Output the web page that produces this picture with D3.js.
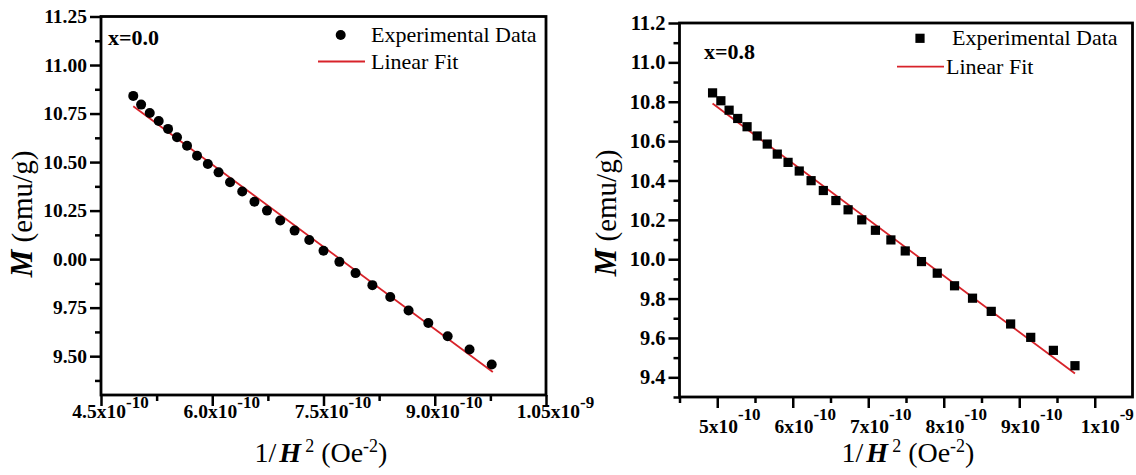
<!DOCTYPE html>
<html><head><meta charset="utf-8">
<script src="https://cdn.jsdelivr.net/npm/d3@7"></script>
<style>body{margin:0;background:#fff}svg{display:block}svg text{font-family:"Liberation Serif","DejaVu Serif",serif}</style>
</head><body>
<svg id="chart" width="1136" height="475"></svg>
<script>
// ---------- data ----------
const leftX = [4.935e-10,5.041e-10,5.157e-10,5.278e-10,5.404e-10,5.525e-10,5.660e-10,5.795e-10,5.940e-10,6.085e-10,6.240e-10,6.404e-10,6.569e-10,6.738e-10,6.917e-10,7.110e-10,7.308e-10,7.500e-10,7.714e-10,7.932e-10,8.159e-10,8.400e-10,8.647e-10,8.913e-10,9.174e-10,9.469e-10,9.768e-10];
const leftM = [10.841,10.796,10.753,10.712,10.671,10.628,10.584,10.533,10.490,10.447,10.396,10.348,10.296,10.250,10.199,10.147,10.099,10.043,9.986,9.928,9.866,9.805,9.735,9.671,9.603,9.534,9.457];
const leftFitX = [4.935e-10, 9.783e-10];
const leftFitM = [10.788, 9.418];

const rightX = [4.938e-10,5.048e-10,5.157e-10,5.271e-10,5.395e-10,5.529e-10,5.662e-10,5.795e-10,5.938e-10,6.086e-10,6.243e-10,6.405e-10,6.571e-10,6.733e-10,6.914e-10,7.095e-10,7.300e-10,7.490e-10,7.705e-10,7.914e-10,8.143e-10,8.381e-10,8.629e-10,8.886e-10,9.152e-10,9.452e-10,9.738e-10];
const rightM = [10.845,10.805,10.757,10.715,10.673,10.626,10.585,10.534,10.492,10.448,10.399,10.349,10.298,10.251,10.200,10.147,10.098,10.042,9.988,9.929,9.865,9.802,9.735,9.671,9.603,9.537,9.459];
const rightFitX = [4.938e-10, 9.738e-10];
const rightFitM = [10.791, 9.419];

// ---------- axes / ticks ----------
const leftXDomain = [4.5e-10, 1.05e-9];
const leftYDomain = [9.30, 11.25];
const leftXTicks = [4.5e-10, 6.0e-10, 7.5e-10, 9.0e-10, 1.05e-9];
const leftXTickBase = ["4.5x10","6.0x10","7.5x10","9.0x10","1.05x10"];
const leftXTickExp = ["-10","-10","-10","-10","-9"];
const leftXMinor = [5.25e-10, 6.75e-10, 8.25e-10, 9.75e-10];
const leftYTicks = [9.50, 9.75, 10.00, 10.25, 10.50, 10.75, 11.00, 11.25];
const leftYTickLabels = ["9.50","9.75","0.00","10.25","10.50","10.75","11.00","11.25"];
const leftYMinor = [9.375, 9.625, 9.875, 10.125, 10.375, 10.625, 10.875, 11.125];

const rightXDomain = [4.5e-10, 1.05e-9];
const rightYDomain = [9.30, 11.20];
const rightXTicks = [5e-10, 6e-10, 7e-10, 8e-10, 9e-10, 1e-9];
const rightXTickBase = ["5x10","6x10","7x10","8x10","9x10","1x10"];
const rightXTickExp = ["-10","-10","-10","-10","-10","-9"];
const rightXMinor = [4.5e-10, 5.5e-10, 6.5e-10, 7.5e-10, 8.5e-10, 9.5e-10];
const rightYTicks = [9.4, 9.6, 9.8, 10.0, 10.2, 10.4, 10.6, 10.8, 11.0, 11.2];
const rightYTickLabels = ["9.4","9.6","9.8","10.0","10.2","10.4","10.6","10.8","11.0","11.2"];
const rightYMinor = [9.3, 9.5, 9.7, 9.9, 10.1, 10.3, 10.5, 10.7, 10.9, 11.1];

const legendLabels = ["Experimental Data", "Linear Fit"];
const panelLabels = ["x=0.0", "x=0.8"];

const FONT = '"Liberation Serif", "DejaVu Serif", serif';
const RED = "#d8232a";
const svg = d3.select("#chart");

const panels = [
  { X: leftX, M: leftM, fitX: leftFitX, fitM: leftFitM, xDom: leftXDomain, yDom: leftYDomain,
    xTicks: leftXTicks, xBase: leftXTickBase, xExp: leftXTickExp, xMinor: leftXMinor,
    yTicks: leftYTicks, yLabels: leftYTickLabels, yMinor: leftYMinor,
    box: {x0: 101, x1: 546, y0: 16.5, y1: 395}, marker: "circle", label: panelLabels[0],
    labelPos: [108, 45], xLabShift: 9, xLabY: 23, supDy: -10, yFont: 19.5,
    leg: {mx: 340.7, my: 35, tx: 371, ty1: 42, lx0: 318, lx1: 365, ly: 61.5, ty2: 68.5},
    yTitle: [32, 214], xTitle: [321, 462] },
  { X: rightX, M: rightM, fitX: rightFitX, fitM: rightFitM, xDom: rightXDomain, yDom: rightYDomain,
    xTicks: rightXTicks, xBase: rightXTickBase, xExp: rightXTickExp, xMinor: rightXMinor,
    yTicks: rightYTicks, yLabels: rightYTickLabels, yMinor: rightYMinor,
    box: {x0: 679.5, x1: 1132.5, y0: 23, y1: 397}, marker: "square", label: panelLabels[1],
    labelPos: [704, 59], xLabShift: 12, xLabY: 36, supDy: -13, yFont: 20.5,
    leg: {mx: 920, my: 38.3, tx: 952, ty1: 45, lx0: 897, lx1: 944, ly: 66.7, ty2: 74},
    yTitle: [616, 213], xTitle: [908, 462] }
];

panels.forEach(p => {
  const b = p.box;
  const x = d3.scaleLinear().domain(p.xDom).range([b.x0, b.x1]);
  const y = d3.scaleLinear().domain(p.yDom).range([b.y1, b.y0]);
  const g = svg.append("g");

  // minor ticks
  g.append("g").attr("transform", `translate(0,${b.y1})`)
    .call(d3.axisBottom(x).tickValues(p.xMinor).tickSize(6).tickFormat(""))
    .call(s => s.select(".domain").remove())
    .selectAll("line").attr("stroke", "#000").attr("stroke-width", 2.5);
  g.append("g").attr("transform", `translate(${b.x0},0)`)
    .call(d3.axisLeft(y).tickValues(p.yMinor).tickSize(6).tickFormat(""))
    .call(s => s.select(".domain").remove())
    .selectAll("line").attr("stroke", "#000").attr("stroke-width", 2.5);

  // major x ticks
  const xa = g.append("g").attr("transform", `translate(0,${b.y1})`)
    .call(d3.axisBottom(x).tickValues(p.xTicks).tickSize(11).tickFormat(""));
  xa.attr("font-family", null);
  xa.select(".domain").remove();
  xa.selectAll("line").attr("stroke", "#000").attr("stroke-width", 2.5);
  xa.selectAll(".tick").each(function(d, i) {
    const t = d3.select(this).append("text")
      .attr("x", p.xLabShift).attr("y", p.xLabY)
      .attr("text-anchor", "middle").attr("fill", "#000")
      .style("font-family", FONT).style("font-size", "19.5px").style("font-weight", "bold");
    t.append("tspan").text(p.xBase[i]);
    t.append("tspan").attr("dy", p.supDy).style("font-size", "17px").text(p.xExp[i]);
  });

  // major y ticks
  const ya = g.append("g").attr("transform", `translate(${b.x0},0)`)
    .call(d3.axisLeft(y).tickValues(p.yTicks).tickSize(11).tickPadding(3)
      .tickFormat((d, i) => p.yLabels[i]));
  ya.attr("font-family", null);
  ya.select(".domain").remove();
  ya.selectAll("line").attr("stroke", "#000").attr("stroke-width", 2.5);
  ya.selectAll("text").attr("fill", "#000")
    .style("font-family", FONT).style("font-size", p.yFont + "px").style("font-weight", "bold");

  // frame
  g.append("rect").attr("x", b.x0).attr("y", b.y0)
    .attr("width", b.x1 - b.x0).attr("height", b.y1 - b.y0)
    .attr("fill", "none").attr("stroke", "#000").attr("stroke-width", 2.8);

  // fit line
  g.append("path")
    .datum(p.fitX.map((v, i) => [v, p.fitM[i]]))
    .attr("d", d3.line().x(d => x(d[0])).y(d => y(d[1])))
    .attr("stroke", RED).attr("stroke-width", 1.8).attr("fill", "none");

  // markers
  const pts = p.X.map((v, i) => [v, p.M[i]]);
  if (p.marker === "circle") {
    g.selectAll("circle.pt").data(pts).join("circle").attr("class", "pt")
      .attr("cx", d => x(d[0])).attr("cy", d => y(d[1])).attr("r", 5).attr("fill", "#000");
  } else {
    g.selectAll("rect.pt").data(pts).join("rect").attr("class", "pt")
      .attr("x", d => x(d[0]) - 4.6).attr("y", d => y(d[1]) - 4.6)
      .attr("width", 9.2).attr("height", 9.2).attr("fill", "#000");
  }

  // legend
  const L = p.leg;
  if (p.marker === "circle") {
    g.append("circle").attr("cx", L.mx).attr("cy", L.my).attr("r", 5).attr("fill", "#000");
  } else {
    g.append("rect").attr("x", L.mx - 4.6).attr("y", L.my - 4.6).attr("width", 9.2).attr("height", 9.2).attr("fill", "#000");
  }
  g.append("text").attr("x", L.tx).attr("y", L.ty1).style("font-family", FONT).style("font-size", "22px").text(legendLabels[0]);
  g.append("line").attr("x1", L.lx0).attr("x2", L.lx1).attr("y1", L.ly).attr("y2", L.ly)
    .attr("stroke", RED).attr("stroke-width", 1.8);
  g.append("text").attr("x", p.marker === "circle" ? L.tx : L.lx1 + 2).attr("y", L.ty2)
    .style("font-family", FONT).style("font-size", "22px").text(legendLabels[1]);

  // panel label
  g.append("text").attr("x", p.labelPos[0]).attr("y", p.labelPos[1])
    .style("font-family", FONT).style("font-size", "22px").style("font-weight", "bold").text(p.label);

  // y title
  const yt = g.append("text").attr("transform", `translate(${p.yTitle[0]},${p.yTitle[1]}) rotate(-90)`)
    .attr("text-anchor", "middle").style("font-family", FONT).style("font-size", "29px");
  yt.append("tspan").style("font-weight", "bold").style("font-style", "italic").style("font-size", "31px").text("M");
  yt.append("tspan").text(" (emu/g)");

  // x title
  const xt = g.append("text").attr("x", p.xTitle[0]).attr("y", p.xTitle[1])
    .attr("text-anchor", "middle").style("font-family", FONT).style("font-size", "28px");
  xt.append("tspan").text("1/");
  xt.append("tspan").attr("dx", 3).style("font-weight", "bold").style("font-style", "italic").text("H");
  xt.append("tspan").attr("dy", -10).attr("dx", 4).style("font-size", "18px").text("2");
  xt.append("tspan").attr("dy", 10).text(" (Oe");
  xt.append("tspan").attr("dy", -10).style("font-size", "18px").text("-2");
  xt.append("tspan").attr("dy", 10).text(")");
});
</script>
</body></html>
